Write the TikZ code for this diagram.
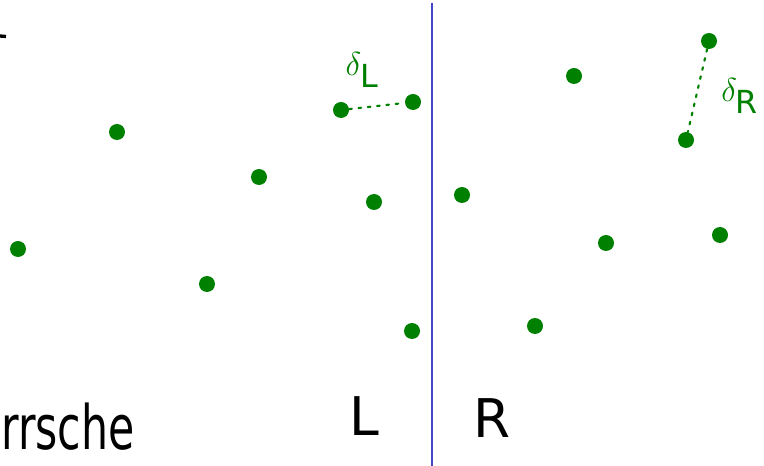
\documentclass[tikz,border=0pt]{standalone}
\usepackage{fontspec}
\setmainfont{DejaVu Sans}
\begin{document}
\begin{tikzpicture}[x=0.75pt,y=-0.75pt,
  pt/.style={circle,fill=ptgreen,draw=none,minimum size=12pt,inner sep=0pt},
  hand/.style={text=black,font=\fontsize{40}{44}\selectfont,inner sep=0pt},
  lbl/.style={text=ptgreen,font=\fontsize{34}{36}\selectfont,inner sep=0pt},
  dist/.style={ptgreen,line width=1.6pt,dash pattern=on 2pt off 5pt,line cap=round}]
\definecolor{ptgreen}{HTML}{008000}
\definecolor{divblue}{HTML}{4545C8}
\useasboundingbox (0,0) rectangle (764,466);
% divider
\coordinate (top) at (432,3);
\coordinate (bot) at (432,466);
\draw[divblue,line width=1.6pt] (top) -- (bot);
% fragment top-left
\coordinate (f1) at (0,36);
\coordinate (f2) at (6,36.5);
\draw[black,line width=2.5pt] (f1) -- (f2);
% points
\node[pt] (p1) at (117,132) {};
\node[pt] (p2) at (259,177) {};
\node[pt] (p3) at (18,249) {};
\node[pt] (p4) at (207,284) {};
\node[pt] (p5) at (374,202) {};
\node[pt] (p6) at (341,110) {};
\node[pt] (p7) at (413,102) {};
\node[pt] (p8) at (412,331) {};
\node[pt] (p9) at (462,195) {};
\node[pt] (p10) at (574,76) {};
\node[pt] (p11) at (709,41) {};
\node[pt] (p12) at (686,140) {};
\node[pt] (p13) at (606,243) {};
\node[pt] (p14) at (720,235) {};
\node[pt] (p15) at (535,326) {};
% distances
\draw[dist] (p6) -- (p7);
\draw[dist] (p11) -- (p12);
\node[lbl] (dl) at (362,70) {$\delta_{\mathrm{L}}$};
\node[lbl] (dr) at (740,96) {$\delta_{\mathrm{R}}$};
% letters
\node[hand] (L) at (364,416) {L};
\node[hand] (R) at (492,418) {R};
\node[hand,anchor=base west,xscale=0.8,yscale=1.15] (word) at (1,450) {rrsche};
\end{tikzpicture}
\end{document}
